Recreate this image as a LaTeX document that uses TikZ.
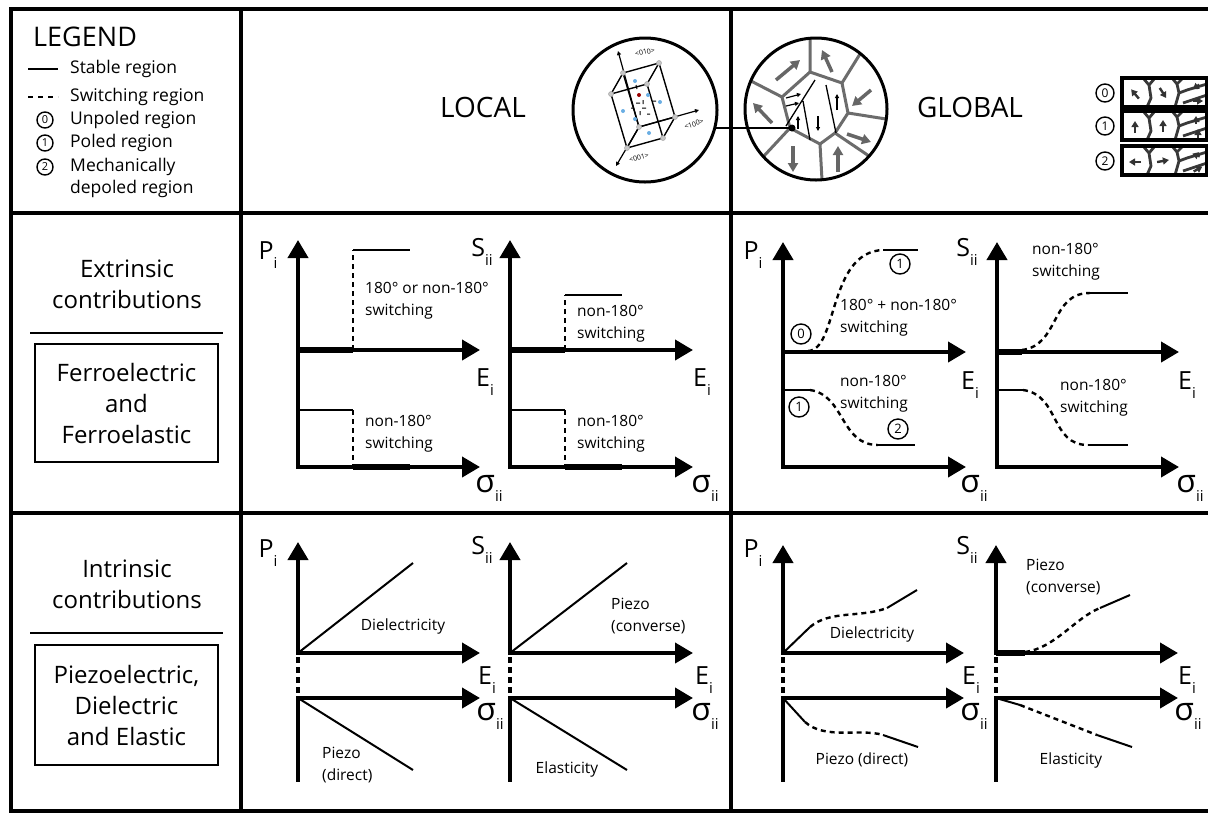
\documentclass[tikz,border=0pt]{standalone}
\usepackage{fontspec}
\setmainfont{Open Sans}
\usetikzlibrary{arrows.meta}
\newcommand{\ax}[2]{#1\raisebox{-9pt}{\fontsize{15}{15}\selectfont #2}}
\newcommand{\sig}{{\fontsize{32}{32}\selectfont σ}}
\tikzset{
  frame/.style={line width=4pt},
  axis/.style={line width=4pt, line cap=rect, -{Triangle[length=18pt,width=20pt]}},
  stem/.style={line width=4pt, line cap=rect},
  gap/.style={line width=4pt, dash pattern=on 6pt off 4pt},
  stable/.style={line width=2pt},
  switch/.style={line width=2.4pt, dash pattern=on 5pt off 4pt},
  heavy/.style={line width=6pt},
  big/.style={font=\fontsize{24}{31}\selectfont, align=center},
  head/.style={font=\fontsize{28}{34}\selectfont},
  leg/.style={font=\fontsize{17.5}{21}\selectfont, anchor=west, inner sep=0pt},
  note/.style={font=\fontsize{15.5}{22}\selectfont, align=left, anchor=west, inner sep=0pt},
  axl/.style={font=\fontsize{25}{30}\selectfont, inner sep=0pt},
  circ/.style={circle, draw, line width=1.4pt, inner sep=0pt, minimum size=20pt, font=\fontsize{13}{13}\selectfont},
  grain/.style={draw=gray!85!black, line width=3pt, line join=round},
  garrow/.style={gray!80!black, line width=3.5pt, -{Triangle[length=9pt,width=10pt]}},
  sarrow/.style={gray!40!black, line width=2.4pt, -{Triangle[length=6pt,width=7pt]}},
  farrow/.style={line width=1.2pt, -{Triangle[length=4pt,width=4pt]}},
  atom/.style={circle, fill=gray!45, draw=gray!70, line width=0.5pt, inner sep=0pt, minimum size=5pt},
  ion/.style={circle, fill=cyan!70!blue!60, inner sep=0pt, minimum size=4pt}
}
\begin{document}
\begin{tikzpicture}[x=1pt,y=-1pt]
\useasboundingbox (0,0) rectangle (1208,815);
% table frame
\draw[frame] (1212,9) -- (11,9) -- (11,811) -- (1212,811);
\draw[frame] (241,9) -- (241,811);
\draw[frame] (731,9) -- (731,811);
\draw[frame] (11,213) -- (1212,213);
\draw[frame] (11,513) -- (1212,513);

% legend
\node[anchor=west, inner sep=0pt, font=\fontsize{27}{30}\selectfont] (legend) at (33,37) {LEGEND};
\draw[stable] (28,69) -- (58,69);
\node[leg] (stab) at (70,69) {Stable region};
\draw[stable, line width=2.5pt, dash pattern=on 5pt off 5pt] (28,97) -- (58,97);
\node[leg] (swit) at (70,97) {Switching region};
\node[circ, minimum size=16pt, font=\fontsize{11}{11}\selectfont] (l0) at (45,120) {0};
\node[leg] (unp) at (70,120) {Unpoled region};
\node[circ, minimum size=16pt, font=\fontsize{11}{11}\selectfont] (l1) at (45,143) {1};
\node[leg] (pol) at (70,143) {Poled region};
\node[circ, minimum size=16pt, font=\fontsize{11}{11}\selectfont] (l2) at (45,167) {2};
\node[leg] (mech) at (70,167) {Mechanically};
\node[leg] (dep) at (70,189) {depoled region};

% row titles
\node[big] (ext) at (127,284) {Extrinsic\\contributions};
\draw[stable] (30,333) -- (223,333);
\node[big, draw, line width=2pt, minimum width=183pt, minimum height=118pt] (ferro) at (126.5,403) {Ferroelectric\\and\\Ferroelastic};
\node[big] (intr) at (127,584) {Intrinsic\\contributions};
\draw[stable] (30,633) -- (223,633);
\node[big, draw, line width=2pt, minimum width=183pt, minimum height=120pt] (piezo) at (126.5,705) {Piezoelectric,\\Dielectric\\and Elastic};

% local
\node[head] (local) at (483,107) {LOCAL};
\draw[line width=3pt] (645,110) circle (72);
\coordinate (t1) at (623,73);  \coordinate (t2) at (659,63);
\coordinate (t3) at (611,94);  \coordinate (t4) at (647,84);
\coordinate (b1) at (639,127); \coordinate (b2) at (675,117);
\coordinate (b3) at (627,148); \coordinate (b4) at (663,138);
\draw[line width=1.4pt, line join=round] (t1) -- (t2) -- (t4) -- (t3) -- cycle (b1) -- (b2) -- (b4) -- (b3) -- cycle
  (t1) -- (b1) (t2) -- (b2) (t3) -- (b3) (t4) -- (b4);
\draw[farrow] (b1) -- (618,51);
\draw[farrow] (b1) -- (699,110);
\draw[farrow] (b1) -- (616,166);
\draw[line width=1pt] (636,103) -- (640,103) (643,100) -- (643,104) (642,108) -- (646,108) (640,111) -- (640,115)
  (631,108) -- (634,108) (647,114) -- (650,114) (636,85) -- (637,89) (653,101) -- (656,101);
\foreach \p in {(635,81),(660,102),(623,111),(635,119),(649,133),(648,95)} \node[ion] at \p {};
\node[circle, fill=red!60!black, inner sep=0pt, minimum size=4pt] at (639,95) {};
\foreach \p in {t1,t2,t3,t4,b1,b2,b3,b4} \node[atom] at (\p) {};
\node[font=\fontsize{7}{7}\selectfont, rotate=12] at (645,52) {<010>};
\node[font=\fontsize{7}{7}\selectfont, rotate=18] at (694,124) {<100>};
\node[font=\fontsize{7}{7}\selectfont, rotate=14] at (639,158) {<001>};

% global
\node[head] (global) at (970,107) {GLOBAL};
\coordinate (gA) at (782,97);  \coordinate (gB) at (810,72);
\coordinate (gC) at (842,83);  \coordinate (gD) at (848,113);
\coordinate (gE) at (835,133); \coordinate (gF) at (820,144);
\coordinate (gG) at (790,128);
\draw[grain] (gA) -- (gB) -- (gC) -- (gD) -- (gE) -- (gF) -- (gG) -- cycle;
\draw[grain] (gA) -- (751,81) (gB) -- (810,38) (gC) -- (860,54) (gD) -- (886,119)
  (gE) -- (869,156) (gF) -- (822,180) (gG) -- (763,157);
\draw[garrow] (776,80) -- (800,60);
\draw[garrow] (832,72) -- (822,50);
\draw[garrow] (871,90) -- (852,106);
\draw[garrow] (847,134) -- (871,142);
\draw[garrow] (838,172) -- (838,146);
\draw[garrow] (793,146) -- (793,172);
\draw[garrow] (772,123) -- (753,103);
\draw[line width=1.3pt] (803,101) -- (810,140) (826,85) -- (836,133) (786,126) -- (815,80);
\draw[farrow] (786,98) -- (801,94);
\draw[farrow] (786,106) -- (799,103);
\draw[farrow] (798,129) -- (798,116);
\draw[farrow] (818,116) -- (818,131);
\draw[farrow] (837,110) -- (837,94);
\draw[line width=3pt] (816,109) circle (71);
\fill (792,128) circle (3.5);
\draw[stable] (715,128) -- (792,128);

% small poling states (angles given with y pointing down)
\foreach \yy/\dig/\aa/\ab/\ac/\ad in {78/0/-130/57/145/0, 111/1/-90/-90/-90/-90, 146/2/180/-10/-160/-30}{
  \node[circ, minimum size=18pt, font=\fontsize{12}{12}\selectfont] at (1105,\yy+15) {\dig};
  \begin{scope}[shift={(1122,\yy)}]
    \draw[draw=gray!45!black, line width=2.8pt, line join=round] (21,0) -- (27,7) -- (33,0) (27,7) -- (29,20) -- (25,29)
      (50,0) -- (55,6) -- (61,0) (55,6) -- (57,15) -- (53,29) (57,15) -- (65,12) -- (85,6) (61,25) -- (85,17);
    \draw[sarrow] (13,16) ++(\aa+180:6) -- ++(\aa:12);
    \draw[sarrow] (41,15) ++(\ab+180:6) -- ++(\ab:12);
    \draw[sarrow] (74,9) ++(\ac+180:4) -- ++(\ac:8);
    \draw[sarrow] (76,23) ++(\ad+180:5) -- ++(\ad:10);
    \draw[line width=3.5pt] (0,0) rectangle (85,29);
  \end{scope}
}

% extrinsic, local
\draw[axis] (298,467) -- (298,240);
\draw[axis] (298,350) -- (480,350);
\draw[axis] (298,467) -- (480,467);
\draw[heavy] (298,350) -- (353,350);
\draw[switch] (353,350) -- (353,250);
\draw[stable] (353,250) -- (410,250);
\node[note] at (365,301) {180° or non-180°\\switching};
\draw[stable] (298,410) -- (353,410);
\draw[switch] (353,410) -- (353,467);
\draw[heavy] (353,467) -- (410,467);
\node[note] at (365,434) {non-180°\\switching};
\draw[axis] (510,467) -- (510,240);
\draw[axis] (510,350) -- (693,350);
\draw[axis] (510,467) -- (693,467);
\draw[heavy] (510,350) -- (565,350);
\draw[switch] (565,350) -- (565,295);
\draw[stable] (565,295) -- (622,295);
\node[note] at (577,324) {non-180°\\switching};
\draw[stable] (510,410) -- (565,410);
\draw[switch] (565,410) -- (565,467);
\draw[heavy] (565,467) -- (622,467);
\node[note] at (577,434) {non-180°\\switching};
\node[axl] at (268,255) {\ax{P}{i}};
\node[axl] at (482,252) {\ax{S}{ii}};
\node[axl] at (485,382) {\ax{E}{i}};
\node[axl] at (702,382) {\ax{E}{i}};
\node[axl] at (489,488) {\ax{\sig}{ii}};
\node[axl] at (705,488) {\ax{\sig}{ii}};

% extrinsic, global
\draw[axis] (783,467) -- (783,242);
\draw[axis] (783,352) -- (966,352);
\draw[axis] (783,467) -- (966,467);
\draw[switch] (808,351) .. controls (838,350) and (828,252) .. (883,250);
\draw[stable] (883,250) -- (918,250);
\node[circ] at (801,334) {0};
\node[circ] at (900,264) {1};
\node[note] at (840,318) {180° + non-180°\\switching};
\draw[stable] (783,390) -- (810,390);
\draw[switch] (810,390) .. controls (845,395) and (840,445) .. (878,445);
\draw[stable] (878,445) -- (915,445);
\node[circ] at (799,407) {1};
\node[circ] at (898,429) {2};
\node[note] at (840,394) {non-180°\\switching};
\draw[axis] (997,467) -- (997,242);
\draw[axis] (997,352) -- (1179,352);
\draw[axis] (997,467) -- (1179,467);
\draw[heavy] (997,352) -- (1022,352);
\draw[switch] (1022,350) .. controls (1060,345) and (1050,293) .. (1090,293);
\draw[stable] (1090,293) -- (1128,293);
\node[note] at (1032,262) {non-180°\\switching};
\draw[stable] (997,390) -- (1023,390);
\draw[switch] (1023,390) .. controls (1060,395) and (1050,445) .. (1088,445);
\draw[stable] (1088,445) -- (1128,445);
\node[note] at (1060,398) {non-180°\\switching};
\node[axl] at (753,255) {\ax{P}{i}};
\node[axl] at (967,252) {\ax{S}{ii}};
\node[axl] at (970,385) {\ax{E}{i}};
\node[axl] at (1187,385) {\ax{E}{i}};
\node[axl] at (974,488) {\ax{\sig}{ii}};
\node[axl] at (1190,488) {\ax{\sig}{ii}};

% intrinsic, local
\draw[axis] (298,653) -- (298,542);
\draw[gap] (298,657) -- (298,694);
\draw[stem] (298,698) -- (298,780);
\draw[axis] (298,653) -- (480,653);
\draw[axis] (298,698) -- (480,698);
\draw[stable] (298,653) -- (413,563);
\node[font=\fontsize{15.5}{22}\selectfont] at (403,626) {Dielectricity};
\draw[stable] (298,698) -- (413,770);
\node[note] at (322,765) {Piezo\\(direct)};
\draw[axis] (510,653) -- (510,542);
\draw[gap] (510,657) -- (510,694);
\draw[stem] (510,698) -- (510,780);
\draw[axis] (510,653) -- (693,653);
\draw[axis] (510,698) -- (693,698);
\draw[stable] (510,653) -- (627,563);
\node[note] at (611,616) {Piezo\\(converse)};
\draw[stable] (510,698) -- (627,770);
\node[font=\fontsize{15.5}{22}\selectfont] at (567,769) {Elasticity};
\node[axl] at (268,553) {\ax{P}{i}};
\node[axl] at (482,550) {\ax{S}{ii}};
\node[axl] at (487,680) {\ax{E}{i}};
\node[axl] at (704,680) {\ax{E}{i}};
\node[axl] at (490,716) {\ax{\sig}{ii}};
\node[axl] at (705,716) {\ax{\sig}{ii}};

% intrinsic, global
\draw[axis] (783,653) -- (783,545);
\draw[gap] (783,657) -- (783,694);
\draw[stem] (783,698) -- (783,780);
\draw[axis] (783,653) -- (964,653);
\draw[axis] (783,698) -- (964,698);
\draw[stable] (783,653) -- (810,627);
\draw[switch] (810,627) .. controls (830,610) and (860,618) .. (887,608);
\draw[stable] (887,608) -- (917,590);
\node[font=\fontsize{15.5}{22}\selectfont] at (872,634) {Dielectricity};
\draw[stable] (783,698) -- (805,722);
\draw[switch] (805,722) .. controls (825,740) and (860,728) .. (883,735);
\draw[stable] (883,735) -- (918,747);
\node[font=\fontsize{15.5}{22}\selectfont] at (862,760) {Piezo (direct)};
\draw[axis] (996,653) -- (996,545);
\draw[gap] (996,657) -- (996,694);
\draw[stem] (996,698) -- (996,780);
\draw[axis] (996,653) -- (1178,653);
\draw[axis] (996,698) -- (1178,698);
\draw[heavy] (996,653) -- (1025,653);
\draw[switch] (1025,652) .. controls (1055,648) and (1075,618) .. (1100,608);
\draw[stable] (1100,608) -- (1130,595);
\node[note] at (1026,577) {Piezo\\(converse)};
\draw[stable] (996,698) -- (1020,705);
\draw[switch] (1020,705) -- (1097,735);
\draw[stable] (1097,735) -- (1132,747);
\node[font=\fontsize{15.5}{22}\selectfont] at (1071,760) {Elasticity};
\node[axl] at (753,553) {\ax{P}{i}};
\node[axl] at (967,550) {\ax{S}{ii}};
\node[axl] at (971,680) {\ax{E}{i}};
\node[axl] at (1187,680) {\ax{E}{i}};
\node[axl] at (974,716) {\ax{\sig}{ii}};
\node[axl] at (1188,716) {\ax{\sig}{ii}};
\end{tikzpicture}
\end{document}
